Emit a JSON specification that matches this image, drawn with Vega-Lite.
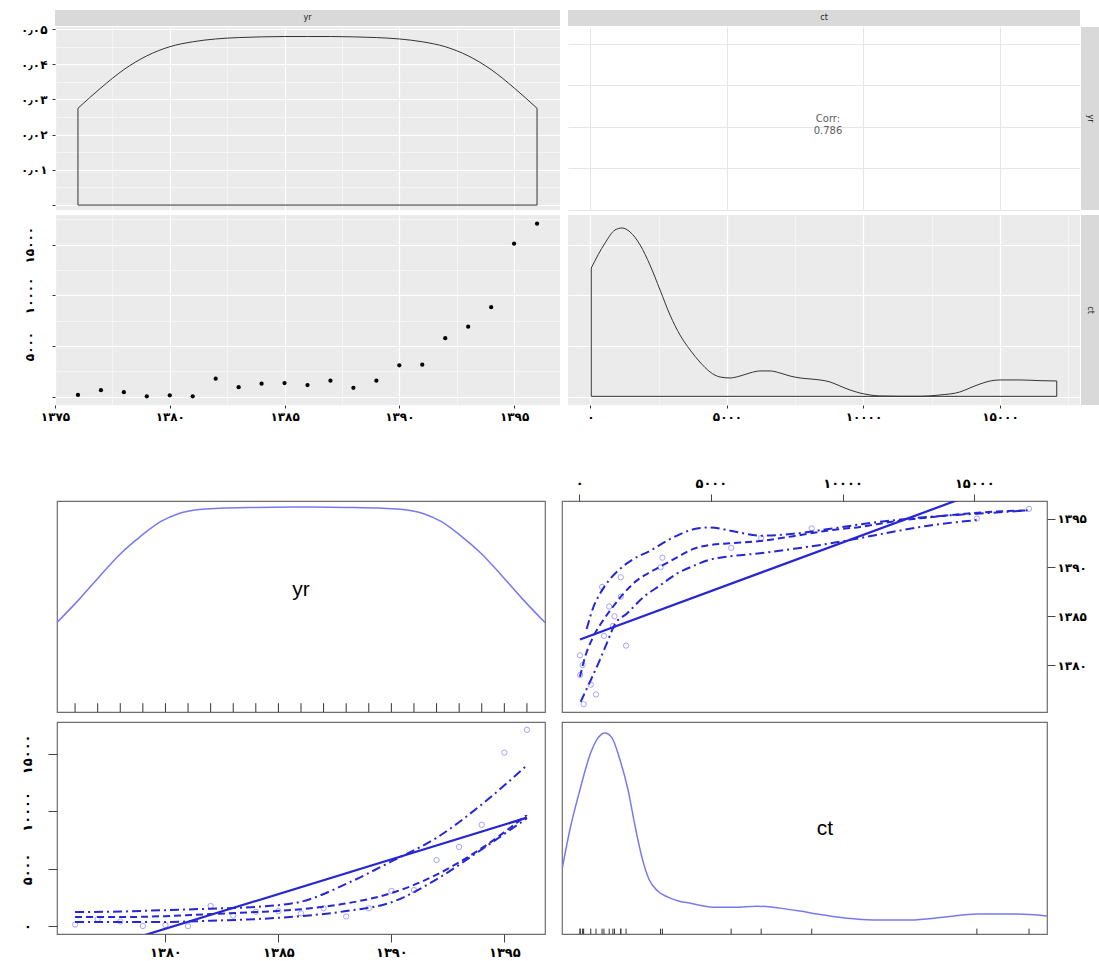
{
"$schema": "https://vega.github.io/schema/vega-lite/v6.json",
"padding": {"left": 0, "top": 10, "right": 0, "bottom": 0},
"background": "white",
"config": {
  "view": {"stroke": null},
  "axis": {"title": null, "labelFont": "DejaVu Sans", "domain": false, "labelOverlap": false, "labelFlush": false},
  "text": {"font": "DejaVu Sans"}
},
"datasets": {
  "pts": [{"yr":1376,"ct":170},{"yr":1377,"ct":640},{"yr":1378,"ct":440},{"yr":1379,"ct":40},{"yr":1380,"ct":130},{"yr":1381,"ct":30},{"yr":1382,"ct":1780},{"yr":1383,"ct":940},{"yr":1384,"ct":1280},{"yr":1385,"ct":1340},{"yr":1386,"ct":1140},{"yr":1387,"ct":1580},{"yr":1388,"ct":870},{"yr":1389,"ct":1580},{"yr":1390,"ct":3090},{"yr":1391,"ct":3160},{"yr":1392,"ct":5770},{"yr":1393,"ct":6910},{"yr":1394,"ct":8830},{"yr":1395,"ct":15100},{"yr":1396,"ct":17080}],
  "blank": [{}],
  "denTopYr": [{"x":1376,"y":0.0275},{"x":1377,"y":0.0333},{"x":1378,"y":0.0385},{"x":1379,"y":0.0424},{"x":1380,"y":0.045},{"x":1381,"y":0.0464},{"x":1382,"y":0.0472},{"x":1383,"y":0.0476},{"x":1384,"y":0.0478},{"x":1385,"y":0.0479},{"x":1386,"y":0.0479},{"x":1387,"y":0.0479},{"x":1388,"y":0.0478},{"x":1389,"y":0.0476},{"x":1390,"y":0.0472},{"x":1391,"y":0.0464},{"x":1392,"y":0.045},{"x":1393,"y":0.0424},{"x":1394,"y":0.0385},{"x":1395,"y":0.0333},{"x":1396,"y":0.0275}],
  "boxTopYr": [{"x":1376,"y":0.0275,"o":0},{"x":1376,"y":0,"o":1},{"x":1396,"y":0,"o":2},{"x":1396,"y":0.0275,"o":3}],
  "denTopCt": [{"x":30,"y":12700},{"x":535,"y":15170},{"x":900,"y":16450},{"x":1160,"y":16650},{"x":1450,"y":16260},{"x":1820,"y":14970},{"x":2180,"y":13000},{"x":2550,"y":10530},{"x":2915,"y":8060},{"x":3280,"y":6090},{"x":3650,"y":4610},{"x":4010,"y":3420},{"x":4380,"y":2440},{"x":4750,"y":1940},{"x":5110,"y":1845},{"x":5480,"y":2040},{"x":5840,"y":2340},{"x":6210,"y":2540},{"x":6580,"y":2540},{"x":6940,"y":2340},{"x":7310,"y":2040},{"x":7680,"y":1845},{"x":8040,"y":1750},{"x":8410,"y":1650},{"x":8780,"y":1450},{"x":9140,"y":1055},{"x":9510,"y":660},{"x":9870,"y":365},{"x":10240,"y":167},{"x":10600,"y":70},{"x":11340,"y":40},{"x":12070,"y":40},{"x":12800,"y":167},{"x":13530,"y":460},{"x":13900,"y":860},{"x":14270,"y":1250},{"x":14640,"y":1550},{"x":15000,"y":1650},{"x":15740,"y":1650},{"x":16470,"y":1580},{"x":17080,"y":1550}],
  "boxTopCt": [{"x":30,"y":12700,"o":0},{"x":30,"y":30,"o":1},{"x":17080,"y":30,"o":2},{"x":17080,"y":1550,"o":3}],
  "denBotYr": [{"x":1375.2,"y":0.0188},{"x":1376.2,"y":0.0247},{"x":1377.1,"y":0.0304},{"x":1378,"y":0.0359},{"x":1378.9,"y":0.0403},{"x":1379.8,"y":0.044},{"x":1380.6,"y":0.046},{"x":1381.5,"y":0.047},{"x":1382.4,"y":0.0473},{"x":1384,"y":0.0475},{"x":1386,"y":0.0476},{"x":1388,"y":0.0475},{"x":1389.6,"y":0.0473},{"x":1390.5,"y":0.047},{"x":1391.4,"y":0.046},{"x":1392.2,"y":0.044},{"x":1393.1,"y":0.0403},{"x":1394,"y":0.0359},{"x":1394.9,"y":0.0304},{"x":1395.8,"y":0.0247},{"x":1396.8,"y":0.0188}],
  "denBotCt": [{"x":-650,"y":0.3},{"x":-350,"y":0.5},{"x":30,"y":0.7},{"x":410,"y":0.875},{"x":714,"y":0.96},{"x":980,"y":0.985},{"x":1245,"y":0.96},{"x":1549,"y":0.85},{"x":1853,"y":0.7},{"x":2118,"y":0.52},{"x":2384,"y":0.36},{"x":2650,"y":0.25},{"x":2990,"y":0.19},{"x":3371,"y":0.16},{"x":3800,"y":0.14},{"x":4208,"y":0.13},{"x":5081,"y":0.11},{"x":5915,"y":0.11},{"x":6750,"y":0.115},{"x":7623,"y":0.105},{"x":8383,"y":0.09},{"x":9028,"y":0.075},{"x":10091,"y":0.055},{"x":11155,"y":0.045},{"x":12560,"y":0.045},{"x":13889,"y":0.06},{"x":15102,"y":0.075},{"x":16621,"y":0.075},{"x":17760,"y":0.065}],
  "regTR": [{"ct":30,"yr":1382.62},{"ct":17080,"yr":1399.6}],
  "smTR": [
    {"k":"fit","ct":30,"yr":1378.8},{"k":"fit","ct":220,"yr":1380.8},{"k":"fit","ct":535,"yr":1382.9},{"k":"fit","ct":915,"yr":1384.6},{"k":"fit","ct":1234,"yr":1385.8},{"k":"fit","ct":1675,"yr":1387.3},{"k":"fit","ct":2183,"yr":1388.65},{"k":"fit","ct":2688,"yr":1389.5},{"k":"fit","ct":3068,"yr":1390.07},{"k":"fit","ct":3700,"yr":1391.0},{"k":"fit","ct":4333,"yr":1391.9},{"k":"fit","ct":4966,"yr":1392.3},{"k":"fit","ct":5600,"yr":1392.45},{"k":"fit","ct":6864,"yr":1392.7},{"k":"fit","ct":8129,"yr":1393.2},{"k":"fit","ct":9396,"yr":1393.75},{"k":"fit","ct":10660,"yr":1394.15},{"k":"fit","ct":11925,"yr":1394.7},{"k":"fit","ct":13193,"yr":1395.1},{"k":"fit","ct":14457,"yr":1395.45},{"k":"fit","ct":15722,"yr":1395.7},{"k":"fit","ct":17050,"yr":1395.85},
    {"k":"upper","ct":285,"yr":1383.7},{"k":"upper","ct":535,"yr":1385.9},{"k":"upper","ct":854,"yr":1387.6},{"k":"upper","ct":1169,"yr":1388.8},{"k":"upper","ct":1549,"yr":1389.85},{"k":"upper","ct":2054,"yr":1390.85},{"k":"upper","ct":2688,"yr":1391.7},{"k":"upper","ct":3447,"yr":1392.9},{"k":"upper","ct":4333,"yr":1393.9},{"k":"upper","ct":4966,"yr":1394.1},{"k":"upper","ct":5851,"yr":1393.7},{"k":"upper","ct":6864,"yr":1393.25},{"k":"upper","ct":8129,"yr":1393.45},{"k":"upper","ct":9396,"yr":1393.9},{"k":"upper","ct":10660,"yr":1394.4},{"k":"upper","ct":12559,"yr":1395.0},{"k":"upper","ct":14457,"yr":1395.4},{"k":"upper","ct":15722,"yr":1395.6},{"k":"upper","ct":17050,"yr":1395.85},
    {"k":"lower","ct":57,"yr":1376.25},{"k":"lower","ct":410,"yr":1378.3},{"k":"lower","ct":725,"yr":1380.15},{"k":"lower","ct":1044,"yr":1382.2},{"k":"lower","ct":1360,"yr":1384.2},{"k":"lower","ct":1803,"yr":1385.25},{"k":"lower","ct":2434,"yr":1386.95},{"k":"lower","ct":3068,"yr":1388.15},{"k":"lower","ct":3700,"yr":1389.35},{"k":"lower","ct":4333,"yr":1390.15},{"k":"lower","ct":4966,"yr":1390.8},{"k":"lower","ct":5600,"yr":1391.1},{"k":"lower","ct":6864,"yr":1391.45},{"k":"lower","ct":8129,"yr":1391.9},{"k":"lower","ct":9396,"yr":1392.4},{"k":"lower","ct":10660,"yr":1393.0},{"k":"lower","ct":11925,"yr":1393.65},{"k":"lower","ct":13193,"yr":1394.25},{"k":"lower","ct":15091,"yr":1394.85}
  ],
  "regBL": [{"yr":1376,"ct":-2607},{"yr":1396,"ct":9453}],
  "smBL": [
    {"k":"fit","yr":1376,"ct":820},{"k":"fit","yr":1378,"ct":820},{"k":"fit","yr":1380,"ct":900},{"k":"fit","yr":1382,"ct":1080},{"k":"fit","yr":1384,"ct":1250},{"k":"fit","yr":1386,"ct":1500},{"k":"fit","yr":1388,"ct":2000},{"k":"fit","yr":1390,"ct":2900},{"k":"fit","yr":1392,"ct":4500},{"k":"fit","yr":1394,"ct":6800},{"k":"fit","yr":1396,"ct":9700},
    {"k":"upper","yr":1376,"ct":1250},{"k":"upper","yr":1378,"ct":1300},{"k":"upper","yr":1380,"ct":1420},{"k":"upper","yr":1382,"ct":1550},{"k":"upper","yr":1384,"ct":1700},{"k":"upper","yr":1386,"ct":2150},{"k":"upper","yr":1388,"ct":3700},{"k":"upper","yr":1390,"ct":5650},{"k":"upper","yr":1392,"ct":7700},{"k":"upper","yr":1394,"ct":10600},{"k":"upper","yr":1396,"ct":14000},
    {"k":"lower","yr":1376,"ct":380},{"k":"lower","yr":1378,"ct":380},{"k":"lower","yr":1380,"ct":390},{"k":"lower","yr":1382,"ct":500},{"k":"lower","yr":1384,"ct":640},{"k":"lower","yr":1386,"ct":900},{"k":"lower","yr":1388,"ct":1340},{"k":"lower","yr":1390,"ct":2100},{"k":"lower","yr":1392,"ct":4100},{"k":"lower","yr":1394,"ct":6700},{"k":"lower","yr":1396,"ct":9400}
  ]
},
"spacing": 14,
"vconcat": [
{
"columns": 5,
"bounds": "flush",
"align": "each",
"spacing": {"row": 1, "column": 1},
"concat": [
  {"width": 54, "height": 16, "view": {"fill": "transparent", "stroke": null}, "data": {"name": "blank"}, "mark": {"type": "point", "opacity": 0}},
  {"width": 505, "height": 16, "view": {"fill": "#d9d9d9", "stroke": null}, "data": {"values": [{"t": "yr"}]}, "mark": {"type": "text", "fontSize": 8, "color": "#1a1a1a"}, "encoding": {"text": {"field": "t"}}},
  {"width": 6, "height": 16, "view": {"fill": "transparent", "stroke": null}, "data": {"name": "blank"}, "mark": {"type": "point", "opacity": 0}},
  {"width": 512, "height": 16, "view": {"fill": "#d9d9d9", "stroke": null}, "data": {"values": [{"t": "ct"}]}, "mark": {"type": "text", "fontSize": 8, "color": "#1a1a1a"}, "encoding": {"text": {"field": "t"}}},
  {"width": 18, "height": 16, "view": {"fill": "transparent", "stroke": null}, "data": {"name": "blank"}, "mark": {"type": "point", "opacity": 0}},

  {"width": 54, "height": 183, "view": {"fill": "transparent", "stroke": null}, "data": {"name": "blank"}, "mark": {"type": "point", "opacity": 0}},
  {
    "width": 505, "height": 183,
    "view": {"fill": "#ebebeb", "stroke": null},
    "resolve": {"axis": {"y": "independent"}},
    "layer": [
      {"data": {"name": "denTopYr"}, "mark": {"type": "line", "color": "#333333", "strokeWidth": 1, "interpolate": "monotone"},
       "encoding": {
         "x": {"field": "x", "type": "quantitative", "scale": {"domain": [1375, 1397], "nice": false, "zero": false},
               "axis": {"values": [1375,1377.5,1380,1382.5,1385,1387.5,1390,1392.5,1395], "grid": true, "gridColor": "white", "gridWidth": {"condition": {"test": "datum.value % 5 == 0", "value": 1.2}, "value": 0.5}, "labels": false, "ticks": false}},
         "y": {"field": "y", "type": "quantitative", "scale": {"domain": [-0.0014, 0.0506], "nice": false, "zero": false},
               "axis": {"orient": "left", "values": [0,0.01,0.02,0.03,0.04,0.05], "labelOverlap": false, "grid": true, "gridColor": "white", "gridWidth": 1.2, "tickSize": 3, "tickColor": "#333333", "labelPadding": 5, "labelFontSize": 12, "labelFontWeight": "bold", "labelColor": "black",
                        "labelExpr": "datum.value > 0.001 ? replace(replace(replace(replace(replace(replace(replace(replace(replace(replace(replace(format(datum.value,'.2f'),regexp('0','g'),'۰'),regexp('1','g'),'۱'),regexp('2','g'),'۲'),regexp('3','g'),'۳'),regexp('4','g'),'۴'),regexp('5','g'),'۵'),regexp('6','g'),'۶'),regexp('7','g'),'۷'),regexp('8','g'),'۸'),regexp('9','g'),'۹'),regexp('[.]','g'),'٫') : ''"}}
       }},
      {"data": {"name": "boxTopYr"}, "mark": {"type": "line", "color": "#333333", "strokeWidth": 1},
       "encoding": {"x": {"field": "x", "type": "quantitative"},
                    "y": {"field": "y", "type": "quantitative", "axis": {"orient": "right", "values": [0.005,0.015,0.025,0.035,0.045], "grid": true, "gridColor": "white", "gridWidth": 0.5, "labels": false, "ticks": false}},
                    "order": {"field": "o", "type": "quantitative"}}}
    ]
  },
  {"width": 6, "height": 183, "view": {"fill": "transparent", "stroke": null}, "data": {"name": "blank"}, "mark": {"type": "point", "opacity": 0}},
  {
    "width": 512, "height": 183,
    "view": {"fill": "white", "stroke": null},
    "data": {"values": [{"t": "Corr:\n0.786"}]},
    "mark": {"type": "text", "lineBreak": "\n", "fontSize": 10, "color": "#5e5e5e", "baseline": "middle"},
    "encoding": {
      "text": {"field": "t"},
      "x": {"datum": 8700, "type": "quantitative", "scale": {"domain": [-822, 17932], "nice": false, "zero": false}, "axis": {"values": [0,5000,10000,15000], "grid": true, "gridColor": "#e6e6e6", "gridWidth": 1, "labels": false, "ticks": false}},
      "y": {"datum": 1386, "type": "quantitative", "scale": {"domain": [1375, 1397], "nice": false, "zero": false}, "axis": {"values": [1375,1380,1385,1390,1395], "grid": true, "gridColor": "#e6e6e6", "gridWidth": 1, "labels": false, "ticks": false}}
    }
  },
  {"width": 18, "height": 183, "view": {"fill": "#d9d9d9", "stroke": null}, "data": {"values": [{"t": "yr"}]}, "mark": {"type": "text", "fontSize": 8, "angle": 90, "color": "#1a1a1a"}, "encoding": {"text": {"field": "t"}}},

  {"width": 54, "height": 3, "view": {"fill": "transparent", "stroke": null}, "data": {"name": "blank"}, "mark": {"type": "point", "opacity": 0}},
  {"width": 1, "height": 3, "view": {"fill": "transparent", "stroke": null}, "data": {"name": "blank"}, "mark": {"type": "point", "opacity": 0}},
  {"width": 1, "height": 3, "view": {"fill": "transparent", "stroke": null}, "data": {"name": "blank"}, "mark": {"type": "point", "opacity": 0}},
  {"width": 1, "height": 3, "view": {"fill": "transparent", "stroke": null}, "data": {"name": "blank"}, "mark": {"type": "point", "opacity": 0}},
  {"width": 1, "height": 3, "view": {"fill": "transparent", "stroke": null}, "data": {"name": "blank"}, "mark": {"type": "point", "opacity": 0}},

  {"width": 54, "height": 190, "view": {"fill": "transparent", "stroke": null}, "data": {"name": "blank"}, "mark": {"type": "point", "opacity": 0}},
  {
    "width": 505, "height": 190,
    "view": {"fill": "#ebebeb", "stroke": null},
    "data": {"name": "pts"},
    "mark": {"type": "point", "shape": "circle", "filled": true, "color": "black", "size": 18, "opacity": 1},
    "encoding": {
      "x": {"field": "yr", "type": "quantitative", "scale": {"domain": [1375, 1397], "nice": false, "zero": false},
            "axis": {"values": [1375,1377.5,1380,1382.5,1385,1387.5,1390,1392.5,1395], "labelOverlap": false, "grid": true, "gridColor": "white", "gridWidth": {"condition": {"test": "datum.value % 5 == 0", "value": 1.2}, "value": 0.5}, "tickSize": 3, "tickColor": {"condition": {"test": "datum.value % 5 == 0", "value": "#333333"}, "value": "transparent"}, "labelPadding": 3, "labelFontSize": 12, "labelFontWeight": "bold", "labelColor": "black",
                     "labelExpr": "datum.value % 5 == 0 ? replace(replace(replace(replace(replace(replace(replace(replace(replace(replace(replace(format(datum.value,'d'),regexp('0','g'),'۰'),regexp('1','g'),'۱'),regexp('2','g'),'۲'),regexp('3','g'),'۳'),regexp('4','g'),'۴'),regexp('5','g'),'۵'),regexp('6','g'),'۶'),regexp('7','g'),'۷'),regexp('8','g'),'۸'),regexp('9','g'),'۹'),regexp('[.]','g'),'٫') : ''"}},
      "y": {"field": "ct", "type": "quantitative", "scale": {"domain": [-822, 17932], "nice": false, "zero": false},
            "axis": {"values": [0,2500,5000,7500,10000,12500,15000,17500], "labelOverlap": false, "grid": true, "gridColor": "white", "gridWidth": {"condition": {"test": "datum.value % 5000 == 0", "value": 1.2}, "value": 0.5}, "tickSize": 3, "tickColor": {"condition": {"test": "datum.value % 5000 == 0", "value": "#333333"}, "value": "transparent"}, "labelPadding": 16, "labelAngle": 270, "labelAlign": "center", "labelBaseline": "bottom", "labelFontSize": 12, "labelFontWeight": "bold", "labelColor": "black",
                     "labelExpr": "datum.value % 5000 == 0 && datum.value > 0 ? replace(replace(replace(replace(replace(replace(replace(replace(replace(replace(replace(format(datum.value,'d'),regexp('0','g'),'۰'),regexp('1','g'),'۱'),regexp('2','g'),'۲'),regexp('3','g'),'۳'),regexp('4','g'),'۴'),regexp('5','g'),'۵'),regexp('6','g'),'۶'),regexp('7','g'),'۷'),regexp('8','g'),'۸'),regexp('9','g'),'۹'),regexp('[.]','g'),'٫') : ''"}}
    }
  },
  {"width": 6, "height": 190, "view": {"fill": "transparent", "stroke": null}, "data": {"name": "blank"}, "mark": {"type": "point", "opacity": 0}},
  {
    "width": 512, "height": 190,
    "view": {"fill": "#ebebeb", "stroke": null},
    "layer": [
      {"data": {"name": "denTopCt"}, "mark": {"type": "line", "color": "#333333", "strokeWidth": 1, "interpolate": "monotone"},
       "encoding": {
         "x": {"field": "x", "type": "quantitative", "scale": {"domain": [-822, 17932], "nice": false, "zero": false},
               "axis": {"values": [0,2500,5000,7500,10000,12500,15000,17500], "labelOverlap": false, "grid": true, "gridColor": "white", "gridWidth": {"condition": {"test": "datum.value % 5000 == 0", "value": 1.2}, "value": 0.5}, "tickSize": 3, "tickColor": {"condition": {"test": "datum.value % 5000 == 0", "value": "#333333"}, "value": "transparent"}, "labelPadding": 3, "labelFontSize": 12, "labelFontWeight": "bold", "labelColor": "black",
                        "labelExpr": "datum.value % 5000 == 0 ? replace(replace(replace(replace(replace(replace(replace(replace(replace(replace(replace(format(datum.value,'d'),regexp('0','g'),'۰'),regexp('1','g'),'۱'),regexp('2','g'),'۲'),regexp('3','g'),'۳'),regexp('4','g'),'۴'),regexp('5','g'),'۵'),regexp('6','g'),'۶'),regexp('7','g'),'۷'),regexp('8','g'),'۸'),regexp('9','g'),'۹'),regexp('[.]','g'),'٫') : ''"}},
         "y": {"field": "y", "type": "quantitative", "scale": {"domain": [-822, 17932], "nice": false, "zero": false},
               "axis": {"values": [0,2500,5000,7500,10000,12500,15000,17500], "grid": true, "gridColor": "white", "gridWidth": {"condition": {"test": "datum.value % 5000 == 0", "value": 1.2}, "value": 0.5}, "labels": false, "ticks": false}}
       }},
      {"data": {"name": "boxTopCt"}, "mark": {"type": "line", "color": "#333333", "strokeWidth": 1},
       "encoding": {"x": {"field": "x", "type": "quantitative"}, "y": {"field": "y", "type": "quantitative"}, "order": {"field": "o", "type": "quantitative"}}}
    ]
  },
  {"width": 18, "height": 190, "view": {"fill": "#d9d9d9", "stroke": null}, "data": {"values": [{"t": "ct"}]}, "mark": {"type": "text", "fontSize": 8, "angle": 90, "color": "#1a1a1a"}, "encoding": {"text": {"field": "t"}}},

  {"width": 54, "height": 40, "view": {"fill": "transparent", "stroke": null}, "data": {"name": "blank"}, "mark": {"type": "point", "opacity": 0}},
  {"width": 1, "height": 40, "view": {"fill": "transparent", "stroke": null}, "data": {"name": "blank"}, "mark": {"type": "point", "opacity": 0}},
  {"width": 1, "height": 40, "view": {"fill": "transparent", "stroke": null}, "data": {"name": "blank"}, "mark": {"type": "point", "opacity": 0}},
  {"width": 1, "height": 40, "view": {"fill": "transparent", "stroke": null}, "data": {"name": "blank"}, "mark": {"type": "point", "opacity": 0}},
  {"width": 1, "height": 40, "view": {"fill": "transparent", "stroke": null}, "data": {"name": "blank"}, "mark": {"type": "point", "opacity": 0}}
]
},
{
"columns": 4,
"bounds": "flush",
"align": "each",
"spacing": {"row": 1, "column": 1},
"concat": [
  {"width": 56, "height": 40, "view": {"fill": "transparent", "stroke": null}, "data": {"name": "blank"}, "mark": {"type": "point", "opacity": 0}},
  {"width": 1, "height": 40, "view": {"fill": "transparent", "stroke": null}, "data": {"name": "blank"}, "mark": {"type": "point", "opacity": 0}},
  {"width": 1, "height": 40, "view": {"fill": "transparent", "stroke": null}, "data": {"name": "blank"}, "mark": {"type": "point", "opacity": 0}},
  {"width": 1, "height": 40, "view": {"fill": "transparent", "stroke": null}, "data": {"name": "blank"}, "mark": {"type": "point", "opacity": 0}},

  {"width": 56, "height": 211, "view": {"fill": "transparent", "stroke": null}, "data": {"name": "blank"}, "mark": {"type": "point", "opacity": 0}},
  {
    "width": 488, "height": 211,
    "view": {"fill": "white", "stroke": "#6e6e6e", "strokeWidth": 1.2},
    "layer": [
      {"data": {"name": "denBotYr"}, "mark": {"type": "line", "color": "#7878f2", "strokeWidth": 1.5, "interpolate": "monotone"},
       "encoding": {
         "x": {"field": "x", "type": "quantitative", "scale": {"domain": [1375.2, 1396.8], "nice": false, "zero": false}, "axis": null},
         "y": {"field": "y", "type": "quantitative", "scale": {"domain": [-0.0035, 0.0491], "nice": false, "zero": false}, "axis": null}
       }},
      {"data": {"name": "pts"}, "mark": {"type": "rule", "color": "#333333", "strokeWidth": 1},
       "encoding": {"x": {"field": "yr", "type": "quantitative"}, "y": {"datum": -0.0035, "type": "quantitative"}, "y2": {"datum": -0.0013}}},
      {"data": {"values": [{"t": "yr"}]}, "mark": {"type": "text", "fontSize": 21, "font": "Liberation Sans", "color": "black", "baseline": "middle"},
       "encoding": {"text": {"field": "t"}, "x": {"datum": 1386, "type": "quantitative"}, "y": {"datum": 0.027, "type": "quantitative"}}}
    ]
  },
  {"width": 15, "height": 211, "view": {"fill": "transparent", "stroke": null}, "data": {"name": "blank"}, "mark": {"type": "point", "opacity": 0}},
  {
    "width": 485, "height": 211,
    "view": {"fill": "white", "stroke": "#6e6e6e", "strokeWidth": 1.2},
    "layer": [
      {"data": {"name": "pts"}, "mark": {"type": "point", "shape": "circle", "filled": false, "color": "#7d7dff", "size": 28, "strokeWidth": 1},
       "encoding": {
         "x": {"field": "ct", "type": "quantitative", "scale": {"domain": [-652, 17762], "nice": false, "zero": false},
               "axis": {"orient": "top", "values": [0,5000,10000,15000], "grid": false, "tickSize": 7, "tickColor": "#444444", "labelPadding": 4, "labelFontSize": 13, "labelFontWeight": "bold", "labelColor": "black",
                        "labelExpr": "replace(replace(replace(replace(replace(replace(replace(replace(replace(replace(replace(format(datum.value,'d'),regexp('0','g'),'۰'),regexp('1','g'),'۱'),regexp('2','g'),'۲'),regexp('3','g'),'۳'),regexp('4','g'),'۴'),regexp('5','g'),'۵'),regexp('6','g'),'۶'),regexp('7','g'),'۷'),regexp('8','g'),'۸'),regexp('9','g'),'۹'),regexp('[.]','g'),'٫')"}},
         "y": {"field": "yr", "type": "quantitative", "scale": {"domain": [1375.2, 1396.8], "nice": false, "zero": false},
               "axis": {"orient": "right", "values": [1380,1385,1390,1395], "grid": false, "tickSize": 8, "tickColor": "#444444", "labelPadding": 2, "labelAlign": "left", "labelFontSize": 12, "labelFontWeight": "bold", "labelColor": "black",
                        "labelExpr": "replace(replace(replace(replace(replace(replace(replace(replace(replace(replace(replace(format(datum.value,'d'),regexp('0','g'),'۰'),regexp('1','g'),'۱'),regexp('2','g'),'۲'),regexp('3','g'),'۳'),regexp('4','g'),'۴'),regexp('5','g'),'۵'),regexp('6','g'),'۶'),regexp('7','g'),'۷'),regexp('8','g'),'۸'),regexp('9','g'),'۹'),regexp('[.]','g'),'٫')"}}
       }},
      {"data": {"name": "regTR"}, "mark": {"type": "line", "color": "#2626d4", "strokeWidth": 2.2, "clip": true},
       "encoding": {"x": {"field": "ct", "type": "quantitative"}, "y": {"field": "yr", "type": "quantitative"}}},
      {"data": {"name": "smTR"}, "mark": {"type": "line", "color": "#2626d4", "strokeWidth": 2, "interpolate": "monotone", "clip": true},
       "encoding": {"x": {"field": "ct", "type": "quantitative"}, "y": {"field": "yr", "type": "quantitative"},
                    "strokeDash": {"field": "k", "type": "nominal", "scale": {"domain": ["fit", "upper", "lower"], "range": [[7, 4], [9, 4, 2, 4], [9, 4, 2, 4]]}, "legend": null}}}
    ]
  },

  {"width": 56, "height": 8, "view": {"fill": "transparent", "stroke": null}, "data": {"name": "blank"}, "mark": {"type": "point", "opacity": 0}},
  {"width": 1, "height": 8, "view": {"fill": "transparent", "stroke": null}, "data": {"name": "blank"}, "mark": {"type": "point", "opacity": 0}},
  {"width": 1, "height": 8, "view": {"fill": "transparent", "stroke": null}, "data": {"name": "blank"}, "mark": {"type": "point", "opacity": 0}},
  {"width": 1, "height": 8, "view": {"fill": "transparent", "stroke": null}, "data": {"name": "blank"}, "mark": {"type": "point", "opacity": 0}},

  {"width": 56, "height": 212, "view": {"fill": "transparent", "stroke": null}, "data": {"name": "blank"}, "mark": {"type": "point", "opacity": 0}},
  {
    "width": 488, "height": 212,
    "view": {"fill": "white", "stroke": "#6e6e6e", "strokeWidth": 1.2},
    "layer": [
      {"data": {"name": "pts"}, "mark": {"type": "point", "shape": "circle", "filled": false, "color": "#7d7dff", "size": 28, "strokeWidth": 1},
       "encoding": {
         "x": {"field": "yr", "type": "quantitative", "scale": {"domain": [1375.2, 1396.8], "nice": false, "zero": false},
               "axis": {"orient": "bottom", "values": [1380,1385,1390,1395], "grid": false, "tickSize": 8, "tickColor": "#444444", "labelPadding": 4, "labelFontSize": 13, "labelFontWeight": "bold", "labelColor": "black",
                        "labelExpr": "replace(replace(replace(replace(replace(replace(replace(replace(replace(replace(replace(format(datum.value,'d'),regexp('0','g'),'۰'),regexp('1','g'),'۱'),regexp('2','g'),'۲'),regexp('3','g'),'۳'),regexp('4','g'),'۴'),regexp('5','g'),'۵'),regexp('6','g'),'۶'),regexp('7','g'),'۷'),regexp('8','g'),'۸'),regexp('9','g'),'۹'),regexp('[.]','g'),'٫')"}},
         "y": {"field": "ct", "type": "quantitative", "scale": {"domain": [-652, 17762], "nice": false, "zero": false},
               "axis": {"orient": "left", "values": [0,5000,10000,15000], "grid": false, "tickSize": 9, "tickColor": "#444444", "labelPadding": 14, "labelAngle": 270, "labelAlign": "center", "labelBaseline": "bottom", "labelFontSize": 13, "labelFontWeight": "bold", "labelColor": "black",
                        "labelExpr": "replace(replace(replace(replace(replace(replace(replace(replace(replace(replace(replace(format(datum.value,'d'),regexp('0','g'),'۰'),regexp('1','g'),'۱'),regexp('2','g'),'۲'),regexp('3','g'),'۳'),regexp('4','g'),'۴'),regexp('5','g'),'۵'),regexp('6','g'),'۶'),regexp('7','g'),'۷'),regexp('8','g'),'۸'),regexp('9','g'),'۹'),regexp('[.]','g'),'٫')"}}
       }},
      {"data": {"name": "regBL"}, "mark": {"type": "line", "color": "#2626d4", "strokeWidth": 2.2, "clip": true},
       "encoding": {"x": {"field": "yr", "type": "quantitative"}, "y": {"field": "ct", "type": "quantitative"}}},
      {"data": {"name": "smBL"}, "mark": {"type": "line", "color": "#2626d4", "strokeWidth": 2, "interpolate": "monotone", "clip": true},
       "encoding": {"x": {"field": "yr", "type": "quantitative"}, "y": {"field": "ct", "type": "quantitative"},
                    "strokeDash": {"field": "k", "type": "nominal", "scale": {"domain": ["fit", "upper", "lower"], "range": [[7, 4], [9, 4, 2, 4], [9, 4, 2, 4]]}, "legend": null}}}
    ]
  },
  {"width": 15, "height": 212, "view": {"fill": "transparent", "stroke": null}, "data": {"name": "blank"}, "mark": {"type": "point", "opacity": 0}},
  {
    "width": 485, "height": 212,
    "view": {"fill": "white", "stroke": "#6e6e6e", "strokeWidth": 1.2},
    "layer": [
      {"data": {"name": "denBotCt"}, "mark": {"type": "line", "color": "#7878f2", "strokeWidth": 1.5, "interpolate": "monotone", "clip": true},
       "encoding": {
         "x": {"field": "x", "type": "quantitative", "scale": {"domain": [-652, 17762], "nice": false, "zero": false}, "axis": null},
         "y": {"field": "y", "type": "quantitative", "scale": {"domain": [-0.025, 1.04], "nice": false, "zero": false}, "axis": null}
       }},
      {"data": {"name": "pts"}, "mark": {"type": "rule", "color": "#333333", "strokeWidth": 1},
       "encoding": {"x": {"field": "ct", "type": "quantitative"}, "y": {"datum": -0.025, "type": "quantitative"}, "y2": {"datum": 0.002}}},
      {"data": {"values": [{"t": "ct"}]}, "mark": {"type": "text", "fontSize": 21, "font": "Liberation Sans", "color": "black", "baseline": "middle"},
       "encoding": {"text": {"field": "t"}, "x": {"datum": 9330, "type": "quantitative"}, "y": {"datum": 0.5, "type": "quantitative"}}}
    ]
  }
]
}
]
}
